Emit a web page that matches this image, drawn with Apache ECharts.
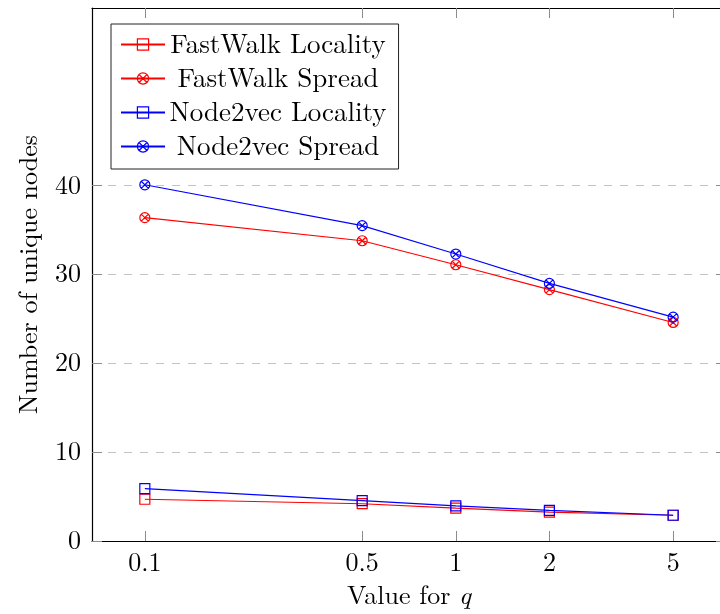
<!DOCTYPE html>
<html>
<head>
<meta charset="utf-8">
<script src="https://cdn.jsdelivr.net/npm/echarts@6/dist/echarts.min.js"></script>
<style>
  html, body { margin: 0; padding: 0; background: #fff; overflow: hidden; }
  /* the original figure is cut a few pixels past its right border */
  #chart { width: 726px; height: 614px; }
</style>
</head>
<body>
<div id="chart"></div>
<script>
// values of q on the (log) x axis
const qValues = [0.1, 0.5, 1, 2, 5];
const xTickLabels = ["0.1", "0.5", "1", "2", "5"];
const yTicks = [0, 10, 20, 30, 40];

// number of unique nodes
const fastWalkLocality = [4.7, 4.2, 3.7, 3.25, 2.9];
const fastWalkSpread = [36.4, 33.8, 31.1, 28.3, 24.6];
const node2vecLocality = [5.9, 4.55, 3.95, 3.45, 2.9];
const node2vecSpread = [40.1, 35.5, 32.3, 29.0, 25.2];

const FONT = "'Latin Modern Roman', 'CMU Serif', 'Liberation Serif', serif";
const RED = "#ff0000";
const BLUE = "#0000ff";
const SQUARE = "path://M0,0 L10,0 L10,10 L0,10 Z";
const OTIMES =
  "path://M10,0 A10,10 0 1,1 10,20 A10,10 0 1,1 10,0 Z M2.93,2.93 L17.07,17.07 M17.07,2.93 L2.93,17.07";

// x range: 10% enlargement in log space, like pgfplots
const XMIN = Math.pow(10, -1.1699);
const XMAX = Math.pow(10, 0.8689);

function makeSeries(name, values, color, symbol) {
  return {
    name: name,
    type: "line",
    data: qValues.map((q, i) => [q, values[i]]),
    symbol: symbol,
    symbolSize: 10,
    showSymbol: true,
    lineStyle: { color: color, width: 1.1 },
    itemStyle: { color: "rgba(0,0,0,0)", borderColor: color, borderWidth: 1.2 },
    emphasis: { disabled: true },
  };
}

function xLabel(v) {
  let best = 0;
  qValues.forEach((q, i) => {
    if (Math.abs(Math.log(q) - Math.log(v)) < Math.abs(Math.log(qValues[best]) - Math.log(v))) best = i;
  });
  return xTickLabels[best];
}

const tickStyle = { color: "#8c8c8c", width: 1 };

const chart = echarts.init(document.getElementById("chart"), null, { renderer: "canvas" });
chart.setOption({
  animation: false,
  backgroundColor: "#fff",
  textStyle: { fontFamily: FONT },
  grid: { left: 92, right: 0, top: 8, bottom: 73 },
  legend: {
    orient: "vertical",
    left: 111,
    top: 24,
    padding: [7, 12, 9, 9],
    itemWidth: 44,
    itemHeight: 14,
    itemGap: 7,
    backgroundColor: "#fff",
    borderColor: "#222",
    borderWidth: 1,
    borderRadius: 0,
    itemStyle: { borderWidth: 1.2 },
    formatter: (name) => "{t|" + name + "}",
    textStyle: {
      rich: {
        t: {
          fontFamily: FONT,
          fontSize: 27,
          color: "#000",
          width: 216,
          align: "center",
          lineHeight: 24,
        },
      },
    },
    data: ["FastWalk Locality", "FastWalk Spread", "Node2vec Locality", "Node2vec Spread"],
  },
  xAxis: [
    {
      type: "log",
      logBase: 10,
      min: XMIN,
      max: XMAX,
      position: "bottom",
      name: "Value for {i|q}",
      nameLocation: "middle",
      nameGap: 42,
      nameTextStyle: {
        fontFamily: FONT,
        fontSize: 26,
        color: "#000",
        verticalAlign: "top",
        rich: { i: { fontFamily: FONT, fontSize: 26, fontStyle: "italic", color: "#000" } },
      },
      axisLine: { show: true, onZero: false, lineStyle: { color: "#000", width: 1.2 } },
      axisTick: { show: true, inside: true, length: 10, lineStyle: tickStyle, customValues: qValues },
      axisLabel: {
        show: true,
        customValues: qValues,
        margin: 9,
        fontFamily: FONT,
        fontSize: 26,
        color: "#000",
        formatter: xLabel,
      },
      splitLine: { show: false },
    },
    {
      type: "log",
      logBase: 10,
      min: XMIN,
      max: XMAX,
      position: "top",
      axisLine: { show: true, onZero: false, lineStyle: { color: "#000", width: 1.2 } },
      axisTick: { show: true, inside: true, length: 10, lineStyle: tickStyle, customValues: qValues },
      axisLabel: { show: false },
      splitLine: { show: false },
    },
  ],
  yAxis: [
    {
      type: "value",
      min: 0,
      max: 60,
      position: "left",
      name: "Number of unique nodes",
      nameLocation: "middle",
      nameGap: 50,
      nameTextStyle: { fontFamily: FONT, fontSize: 26, color: "#000" },
      axisLine: { show: true, onZero: false, lineStyle: { color: "#000", width: 1.2 } },
      axisTick: { show: true, inside: true, length: 10, lineStyle: tickStyle, customValues: yTicks },
      axisLabel: {
        show: true,
        customValues: yTicks,
        margin: 11,
        fontFamily: FONT,
        fontSize: 26,
        color: "#000",
      },
      splitLine: {
        show: true,
        lineStyle: { color: "#c4c4c4", width: 1, type: [8, 8] },
      },
    },
    {
      type: "value",
      min: 0,
      max: 60,
      position: "right",
      axisLine: { show: true, onZero: false, lineStyle: { color: "#000", width: 1.2 } },
      axisTick: { show: true, inside: true, length: 10, lineStyle: tickStyle, customValues: yTicks },
      axisLabel: { show: false },
      splitLine: { show: false },
    },
  ],
  series: [
    makeSeries("FastWalk Locality", fastWalkLocality, RED, SQUARE),
    makeSeries("FastWalk Spread", fastWalkSpread, RED, OTIMES),
    makeSeries("Node2vec Locality", node2vecLocality, BLUE, SQUARE),
    makeSeries("Node2vec Spread", node2vecSpread, BLUE, OTIMES),
  ],
});
</script>
</body>
</html>
